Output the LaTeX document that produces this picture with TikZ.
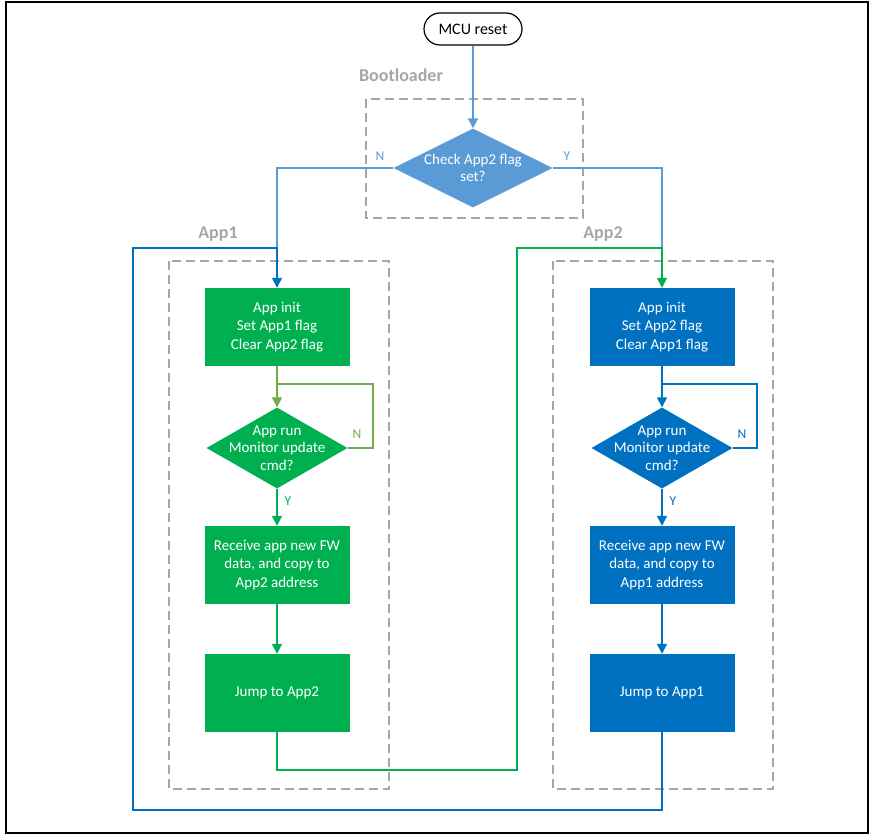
\documentclass[tikz,border=0pt]{standalone}
\usepackage{fontspec}
\setmainfont{Carlito}
\usetikzlibrary{arrows.meta,shapes.geometric,positioning,calc}
\definecolor{ltblue}{HTML}{5B9BD5}
\definecolor{dkblue}{HTML}{0070C0}
\definecolor{appgreen}{HTML}{00B050}
\definecolor{loopgreen}{HTML}{70AD47}
\definecolor{boxgray}{HTML}{A6A6A6}

\begin{document}
\begin{tikzpicture}[x=1pt,y=-1pt]
    \tikzset{stepbox/.style = {rectangle, fill=#1, text=white, align=center,
        minimum width=145pt, minimum height=78pt,
        font=\fontsize{15}{18.5}\selectfont},
      decision/.style = {diamond, fill=#1, inner sep=0pt,
        minimum width=141pt, minimum height=81pt},
      dtext/.style = {text=white, align=center, font=\fontsize{15}{17.5}\selectfont},
      groupbox/.style = {draw=boxgray, dash pattern=on 9pt off 5pt, line width=1.3pt},
      grouplabel/.style = {text=boxgray, font=\bfseries\fontsize{18}{20}\selectfont},
      flow/.style = {draw=#1, line width=1.6pt},
      arr/.style = {-{Triangle[width=10pt,length=10pt]}},
      yn/.style = {text=#1, font=\fontsize{13.5}{15}\selectfont}}
    \useasboundingbox (0,0) rectangle (870,837);
    \draw[line width=1.5pt] (6,2) rectangle (868,833);
    % groups
    \draw[groupbox] (366,99) rectangle (583,218);
    \draw[groupbox] (169,261) rectangle (389,789);
    \draw[groupbox] (553,261) rectangle (773,789);
    \node[grouplabel] (bootLbl) at (401,75) {Bootloader};
    \node[grouplabel] (app1Lbl) at (218,234) {App1};
    \node[grouplabel] (app2Lbl) at (603,234) {App2};
    % bootloader
    \node[draw, line width=1.2pt, rounded corners=16pt, minimum width=98pt,
      minimum height=32pt, font=\fontsize{16}{18}\selectfont] (reset) at (473,29) {MCU reset};
    \node[decision=ltblue, minimum width=159pt, minimum height=79pt,
      label={[dtext]center:Check App2 flag\\set?}] (check) at (473,168) {};
    % App1
    \node[stepbox=appgreen] (init1) at (277,327) {App init\\Set App1 flag\\Clear App2 flag};
    \node[decision=appgreen, label={[dtext]center:App run\\Monitor update\\cmd?}] (run1) at (277,448) {};
    \node[stepbox=appgreen] (recv1) at (277,565) {Receive app new FW\\data, and copy to\\App2 address};
    \node[stepbox=appgreen] (jump1) at (277,693) {Jump to App2};
    % App2
    \node[stepbox=dkblue] (init2) at (662,327) {App init\\Set App2 flag\\Clear App1 flag};
    \node[decision=dkblue, label={[dtext]center:App run\\Monitor update\\cmd?}] (run2) at (662,448) {};
    \node[stepbox=dkblue] (recv2) at (662,565) {Receive app new FW\\data, and copy to\\App1 address};
    \node[stepbox=dkblue] (jump2) at (662,693) {Jump to App1};
    \coordinate (jA) at (277,248);
    \coordinate (jB) at (662,248);
    \coordinate (loopA) at (373,384);
    \coordinate (loopB) at (757,384);
    \coordinate (backA) at (133,810);
    \coordinate (backB) at (517,770);
    % connectors
    \draw[flow=ltblue, arr] (reset) -- (check);
    \draw[flow=ltblue] (check.west) -| (jA);
    \draw[flow=ltblue] (check.east) -| (jB);
    \draw[flow=dkblue, arr] (jump2.south) |- (backA) |- (jA) -- (init1.north);
    \draw[flow=appgreen, arr] (jump1.south) |- (backB) |- (jB) -- (init2.north);
    \draw[flow=loopgreen, arr] (init1) -- (run1);
    \draw[flow=loopgreen] (run1.east) -| (loopA) -| (init1.south);
    \draw[flow=appgreen, arr] (run1) -- (recv1);
    \draw[flow=appgreen, arr] (recv1) -- (jump1);
    \draw[flow=dkblue, arr] (init2) -- (run2);
    \draw[flow=dkblue] (run2.east) -| (loopB) -| (init2.south);
    \draw[flow=dkblue, arr] (run2) -- (recv2);
    \draw[flow=dkblue, arr] (recv2) -- (jump2);
    % labels
    \node[yn=ltblue] (nBoot) at (380,156) {N};
    \node[yn=ltblue] (yBoot) at (567,156) {Y};
    \node[yn=loopgreen] (nApp1) at (357,434) {N};
    \node[yn=appgreen] (yApp1) at (288,501) {Y};
    \node[yn=dkblue] (nApp2) at (742,434) {N};
    \node[yn=dkblue] (yApp2) at (673,501) {Y};
\end{tikzpicture}
\end{document}
